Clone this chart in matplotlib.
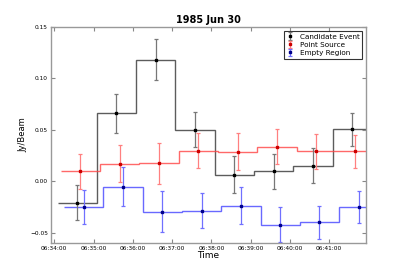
import datetime as dt
import numpy as np
import matplotlib
matplotlib.use("Agg")
import matplotlib.pyplot as plt
import matplotlib.dates as mdates

# flux per 1-minute bin
cand_flux = [-0.021, 0.066, 0.118, 0.050, 0.0065, 0.0097, 0.015, 0.0505]
cand_err = [0.017, 0.019, 0.020, 0.017, 0.018, 0.017, 0.017, 0.016]
point_flux = [0.0097, 0.0169, 0.0175, 0.0295, 0.0285, 0.0334, 0.029, 0.029]
point_err = [0.017, 0.018, 0.020, 0.017, 0.018, 0.017, 0.017, 0.016]
empty_flux = [-0.025, -0.0055, -0.0294, -0.0285, -0.0236, -0.0424, -0.040, -0.0249]
empty_err = [0.017, 0.019, 0.020, 0.017, 0.018, 0.017, 0.016, 0.0155]

start = dt.datetime(1985, 6, 30, 6, 34, 35)
n = len(cand_flux)

fig = plt.figure(figsize=(4.07, 2.71), dpi=100)
ax = fig.add_axes([0.1246, 0.1033, 0.7744, 0.7971])

series = [
    ("Candidate Event", cand_flux, cand_err, 0, "#333333", "black", "#777777"),
    ("Point Source", point_flux, point_err, 5, "#ff4444", "#cc0000", "#ff8080"),
    ("Empty Region", empty_flux, empty_err, 10, "#4444ff", "#00008b", "#7070ff"),
]

for label, flux, err, offset, lcol, mcol, ecol in series:
    t0 = start + dt.timedelta(seconds=offset)
    centers = [t0 + dt.timedelta(minutes=i) for i in range(n)]
    edges = [t0 + dt.timedelta(seconds=60 * i - 30) for i in range(n + 1)]
    ax.stairs(flux, mdates.date2num(edges), baseline=None, color=lcol, lw=1.0, alpha=0.8)
    ax.errorbar(centers, flux, yerr=err, fmt="s", color=mcol, ms=2.0, mec=mcol,
                ecolor=ecol, elinewidth=0.9, capsize=1.5, capthick=0.9, label=label)

ax.set_xlim(dt.datetime(1985, 6, 30, 6, 33, 54, 500000), dt.datetime(1985, 6, 30, 6, 41, 56))
ax.set_ylim(-0.06, 0.15)
ax.set_yticks([-0.05, 0.0, 0.05, 0.10, 0.15])
ax.yaxis.set_major_formatter(plt.FuncFormatter(lambda v, p: "%.2f" % v if v >= 0 else "\u2212%.2f" % -v))
ax.xaxis.set_major_locator(mdates.MinuteLocator())
ax.xaxis.set_major_formatter(mdates.DateFormatter("%H:%M:%S"))

ax.tick_params(direction="in", top=True, right=True, labelsize=4.2, length=3, color="#888888", pad=2)
for s in ax.spines.values():
    s.set_color("#999999")
    s.set_linewidth(1.0)

ax.set_title("1985 Jun 30", fontsize=7, fontweight="bold", pad=3)
ax.set_xlabel("Time", fontsize=6.5, labelpad=0)
ax.set_ylabel("Jy/Beam", fontsize=6, labelpad=2)

leg = ax.legend(loc="upper right", fontsize=5.2, frameon=True, fancybox=False,
                handlelength=1.0, borderpad=0.4, labelspacing=0.3, borderaxespad=0.5)
leg.get_frame().set_edgecolor("black")
leg.get_frame().set_linewidth(0.8)

fig.savefig("out.png", dpi=100)
